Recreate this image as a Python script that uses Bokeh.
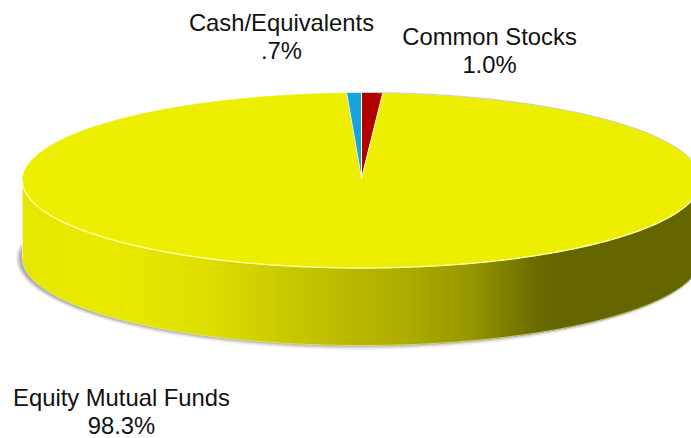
import numpy as np
from bokeh.core.properties import value
from bokeh.embed import file_html
from bokeh.models import Range1d
from bokeh.plotting import figure
from bokeh.resources import INLINE

# Portfolio allocation, clockwise from twelve o'clock
categories = ["Common Stocks", "Equity Mutual Funds", "Cash/Equivalents"]
shares = [1.0, 98.3, 0.7]
share_labels = ["1.0%", "98.3%", ".7%"]
colors = ["#B00000", "#EEEE00", "#18A4DC"]

# Disc geometry in page pixels
CX, CY, RX, RY, DEPTH = 361.0, 180.0, 339.0, 87.5, 77.5

# Side wall shading, left to right
shade_x = [22, 100, 200, 300, 400, 470, 505, 535, 560, 700]
shade_v = [230, 234, 224, 198, 174, 152, 128, 108, 102, 102]


def rim(t, dy=0.0, grow=0.0):
    """Point on the disc's ellipse; t is measured clockwise from the top."""
    return CX + (RX + grow) * np.sin(t), CY + dy - (RY + grow) * np.cos(t)


p = figure(width=691, height=438, output_backend="svg", toolbar_location=None,
           x_range=Range1d(0, 691), y_range=Range1d(438, 0),
           min_border=0, outline_line_color=None, background_fill_color="white")
p.axis.visible = False
p.grid.visible = False

# Soft drop shadow under the disc, strongest on the left
full = np.linspace(0, 2 * np.pi, 361)
for grow, alpha in [(4, 0.05), (3, 0.08), (2, 0.11), (1, 0.14), (0, 0.18)]:
    sx, sy = rim(full, dy=DEPTH + 0.5, grow=grow)
    p.patch(sx - 3, sy, fill_color="#555555", fill_alpha=alpha, line_color=None)

# Side wall as narrow shaded strips
edges = np.arange(CX - RX, CX + RX + 2, 2.0)
xs, ys, fills = [], [], []
for x0, x1 in zip(edges[:-1], edges[1:]):
    def lower(x):
        return CY + RY * np.sqrt(max(0.0, 1 - ((x - CX) / RX) ** 2))
    xs.append([x0, x1, x1, x0])
    ys.append([CY, CY, lower(x1) + DEPTH, lower(x0) + DEPTH])
    v = int(np.interp((x0 + x1) / 2, shade_x, shade_v))
    fills.append(f"#{v:02x}{v:02x}00")
p.patches(xs, ys, fill_color=fills, line_color=fills, line_width=1.0)

# Pale edge along the foot of the wall
t_front = np.linspace(np.pi / 2, 3 * np.pi / 2, 241)
fx, fy = rim(t_front, dy=DEPTH)
p.line(fx, fy, line_color="#DEDEA8", line_width=1.0, line_alpha=0.8)
p.line([CX - RX, CX - RX], [CY, CY + DEPTH], line_color="#F4F490", line_width=1)

# Top face, one wedge per holding
bounds = np.cumsum([0.0] + shares) / sum(shares) * 2 * np.pi
for start, stop, color in zip(bounds[:-1], bounds[1:], colors):
    t = np.linspace(start, stop, max(8, int((stop - start) * 120)))
    wx, wy = rim(t)
    p.patch(np.r_[CX, wx], np.r_[CY - 2, wy], fill_color=color, line_color=color, line_width=0.5)

# Light seams between wedges, the front rim, and a faint grey line on the back right
for b in bounds[:-1]:
    ex, ey = rim(b)
    p.line([CX, ex], [CY - 2, ey], line_color="#FFFFC8", line_width=1.0)
rx, ry = rim(t_front)
p.line(rx, ry, line_color="#FFFFB0", line_width=1.4)
bx, by = rim(np.linspace(0.05, np.pi / 2, 120), grow=0.5)
p.line(bx, by, line_color="#BBBBBB", line_width=1.0, line_alpha=0.7)

# Category labels: name on the first line, share on the second
font = value("Liberation Sans")
label_x = [489, 121, 281]
name_y = [36, 397, 22]
share_y = [64, 425, 50]
p.text(label_x, name_y, text=categories, text_font=font, text_font_size="23.8px",
       text_color="#111111", text_align="center", text_baseline="middle")
p.text(label_x, share_y, text=share_labels, text_font=font, text_font_size="23.8px",
       text_color="#111111", text_align="center", text_baseline="middle")

open("out.html", "w").write(file_html(p, INLINE))
